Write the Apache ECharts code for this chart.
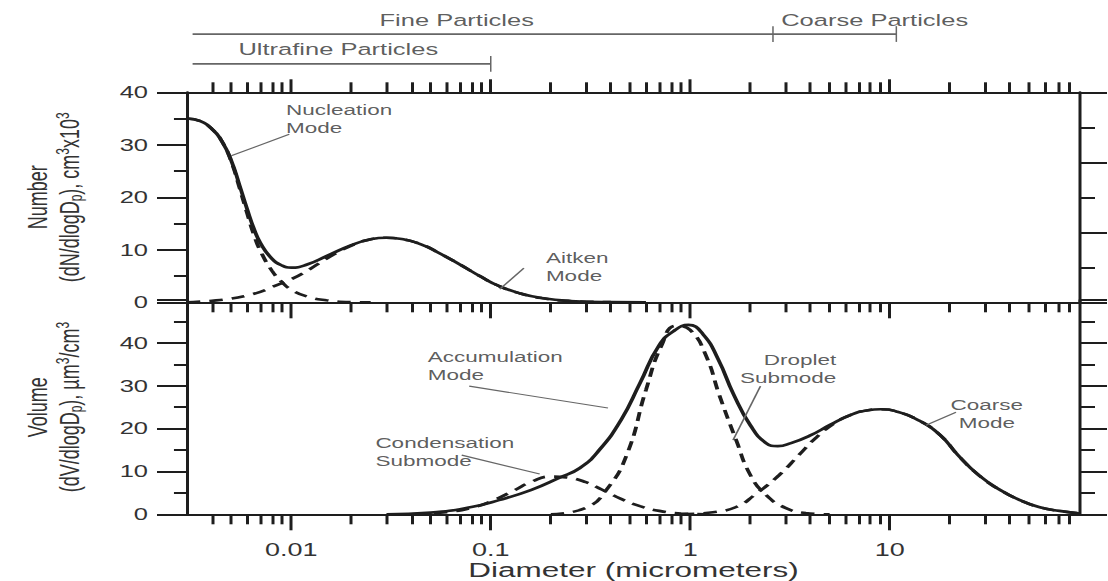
<!DOCTYPE html>
<html><head><meta charset="utf-8">
<script src="https://cdn.jsdelivr.net/npm/echarts@6/dist/echarts.min.js"></script>
<style>
html,body{margin:0;padding:0;background:#fff;overflow:hidden;width:1108px;height:581px;}
#chart{width:739px;height:581px;transform:scaleX(1.5);transform-origin:0 0;}
</style></head><body><div id="chart"></div>
<script>
// ---------- axes ----------
const xMin = 0.003, xMax = 90;
const xMajorTicks = [0.01, 0.1, 1, 10];
const xTickLabels = ['0.01', '0.1', '1', '10'];
const xMinorTicks = [0.004,0.005,0.006,0.007,0.008,0.009,0.02,0.03,0.04,0.05,0.06,0.07,0.08,0.09,
  0.2,0.3,0.4,0.5,0.6,0.7,0.8,0.9,2,3,4,5,6,7,8,9,20,30,40,50,60,70,80];
const numberTickLabels = [0, 10, 20, 30, 40];
const volumeTickLabels = [0, 10, 20, 30, 40];

// ---------- top panel: number distribution [diameter (µm), dN/dlogDp (cm^-3 x10^3)] ----------
const numberTotal = [[0.003,35.0],[0.0035,34.5],[0.004,33.0],[0.0045,30.6],[0.005,27.0],[0.0055,22.3],
  [0.006,17.8],[0.0065,14.0],[0.007,11.3],[0.008,8.3],[0.009,7.0],[0.01,6.6],[0.012,7.2],[0.015,8.8],
  [0.02,10.9],[0.025,12.0],[0.03,12.3],[0.035,12.1],[0.045,11.0],[0.055,9.4],[0.07,7.2],[0.09,4.8],
  [0.11,3.1],[0.14,1.7],[0.18,0.8],[0.25,0.25],[0.4,0.03],[0.6,0]];
const nucleationMode = [[0.003,35.0],[0.0035,34.5],[0.004,33.0],[0.0045,30.6],[0.005,26.8],[0.0055,21.8],
  [0.006,17.0],[0.0065,12.8],[0.007,9.8],[0.008,6.0],[0.009,3.8],[0.01,2.4],[0.012,1.1],[0.015,0.4],
  [0.02,0.05],[0.025,0]];
const aitkenMode = [[0.003,0],[0.004,0.3],[0.005,0.7],[0.006,1.3],[0.007,2.0],[0.008,2.9],[0.01,4.4],
  [0.012,6.0],[0.015,8.3],[0.02,10.8],[0.025,12.0],[0.03,12.3],[0.035,12.1],[0.045,11.0],[0.055,9.4],
  [0.07,7.2],[0.09,4.8],[0.11,3.1],[0.14,1.7],[0.18,0.8],[0.25,0.25],[0.4,0.03]];

// ---------- bottom panel: volume distribution [diameter (µm), dV/dlogDp (µm^3/cm^3)] ----------
const volumeTotal = [[0.03,0],[0.05,0.4],[0.08,1.7],[0.11,3.3],[0.16,5.7],[0.22,8.5],[0.28,10.8],
  [0.35,15.0],[0.45,22.0],[0.56,30.6],[0.7,39.5],[0.84,43.0],[0.98,44.2],[1.16,42.0],[1.38,36.2],
  [1.65,28.0],[2.0,20.8],[2.4,16.6],[2.75,15.9],[3.2,16.6],[4.0,18.4],[5.0,20.8],[6.3,23.1],[7.8,24.3],
  [9.0,24.5],[10.8,24.0],[14,21.9],[18,18.4],[22,13.8],[28,9.1],[36,5.6],[45,3.3],[56,1.7],[71,0.8],[90,0.2]];
const condensationSubmode = [[0.04,0],[0.06,0.5],[0.08,1.5],[0.1,3.0],[0.13,5.5],[0.16,7.6],[0.2,8.8],
  [0.24,8.6],[0.3,7.5],[0.36,5.8],[0.45,3.6],[0.56,1.9],[0.7,0.8],[0.9,0.2],[1.2,0]];
const dropletSubmode = [[0.2,0],[0.3,1.5],[0.38,5.7],[0.48,13.8],[0.6,29.0],[0.72,39.5],[0.85,44.0],
  [1.0,43.0],[1.2,37.0],[1.4,27.8],[1.7,17.3],[2.0,9.2],[2.4,4.5],[3.0,1.5],[3.8,0.3],[5,0]];
const coarseMode = [[0.9,0],[1.3,0.5],[1.7,1.7],[2.1,4.5],[2.8,9.2],[3.5,13.8],[4.3,18.0],[5.3,21.3],
  [6.3,23.1],[7.8,24.3],[9.0,24.5],[10.8,24.0],[14,21.9],[18,18.4],[22,13.8],[28,9.1],[36,5.6],[45,3.3],
  [56,1.7],[71,0.8],[90,0.2]];

// ---------- annotations ----------
const modeLabels = [
  {panel: 0, at: [0.0094, 38.3], text: 'Nucleation\nMode', align: 'left'},
  {panel: 0, at: [0.189, 10.2], text: 'Aitken\nMode', align: 'left'},
  {panel: 1, at: [0.0483, 38.8], text: 'Accumulation\nMode', align: 'left'},
  {panel: 1, at: [0.0264, 18.7], text: 'Condensation\nSubmode', align: 'left'},
  {panel: 1, at: [5.4, 38.1], text: 'Droplet\nSubmode', align: 'right'},
  {panel: 1, at: [30.7, 27.6], text: 'Coarse\nMode', align: 'center'}
];
const leaderLines = [
  {panel: 0, from: [0.00977, 32.0], to: [0.005, 27.9]},
  {panel: 0, from: [0.1466, 6.5], to: [0.111, 2.5]},
  {panel: 1, from: [0.078, 29.9], to: [0.387, 24.8]},
  {panel: 1, from: [0.0715, 13.8], to: [0.176, 9.4]},
  {panel: 1, from: [2.25, 29.9], to: [1.64, 17.3]},
  {panel: 1, from: [21.5, 23.8], to: [15.2, 20.8]}
];
const sizeRanges = [
  {text: 'Fine Particles', from: 0.0032, to: 2.6, level: 51.1, labelAt: [0.0675, 53.8]},
  {text: 'Coarse Particles', from: 2.6, to: 10.8, level: 51.1, labelAt: [8.41, 53.8]},
  {text: 'Ultrafine Particles', from: 0.0032, to: 0.1, level: 45.4, labelAt: [0.0172, 48.2]}
];

// ---------- styling ----------
const FONT = '"Liberation Sans", Arial, Helvetica, sans-serif';
const INK = '#1e1e1e', TEXT = '#333', THIN = '#666';
const SX = 1.5;
const gridLeft = 187 / SX, gridRight = 739 - 1080 / SX;

const chart = echarts.init(document.getElementById('chart'), null, {renderer: 'svg'});

function logX(gridIndex, position, ticks, len, showLine) {
  return {
    type: 'log', logBase: 10, gridIndex, position, min: xMin, max: xMax,
    axisLine: {show: showLine, onZero: false, lineStyle: {color: INK, width: 2}},
    axisTick: {show: true, customValues: ticks, length: len, lineStyle: {color: INK, width: 2}},
    axisLabel: {show: false}, splitLine: {show: false},
    minorTick: {show: false}, minorSplitLine: {show: false}
  };
}
function linY(gridIndex, position, max, interval, majorLen, minorLen, labels, name) {
  const ax = {
    type: 'value', gridIndex, position, min: 0, max, interval,
    axisLine: {show: true, onZero: false, lineStyle: {color: INK, width: 2}},
    axisTick: {show: true, length: majorLen, lineStyle: {color: INK, width: 2}},
    minorTick: {show: true, splitNumber: 2, length: minorLen, lineStyle: {color: INK, width: 2}},
    axisLabel: {show: false}, splitLine: {show: false}
  };
  if (labels) {
    ax.axisLabel = {show: true, customValues: labels, margin: 26, fontFamily: FONT, fontSize: 17, color: TEXT};
  }
  if (name) {
    ax.name = name;
    ax.nameLocation = 'middle';
    ax.nameRotate = 90;
    ax.nameGap = 68;
    ax.nameTextStyle = {
      fontFamily: FONT, fontSize: 18, color: TEXT, lineHeight: 21,
      rich: {
        t: {fontFamily: FONT, fontSize: 18, color: TEXT, lineHeight: 21},
        s: {fontFamily: FONT, fontSize: 12, color: TEXT, lineHeight: 11, verticalAlign: 'bottom'},
        u: {fontFamily: FONT, fontSize: 12, color: TEXT, lineHeight: 11, verticalAlign: 'top'}
      }
    };
  }
  return ax;
}

const xAxes = [
  logX(0, 'bottom', xMajorTicks, 16, true),
  logX(0, 'bottom', xMinorTicks, 10, false),
  logX(0, 'top', xMajorTicks, 13, true),
  logX(0, 'top', xMinorTicks, 10, false),
  logX(1, 'bottom', xMajorTicks, 16, true),
  logX(1, 'bottom', xMinorTicks, 10, false)
];
xAxes[4].axisLabel = {
  show: true, customValues: xMajorTicks, margin: 26, fontFamily: FONT, fontSize: 18, color: TEXT,
  formatter: v => {
    const i = xMajorTicks.findIndex(t => Math.abs(Math.log10(t) - Math.log10(v)) < 1e-6);
    return i >= 0 ? xTickLabels[i] : '';
  }
};
xAxes[4].name = 'Diameter (micrometers)';
xAxes[4].nameLocation = 'middle';
xAxes[4].nameGap = 44;
xAxes[4].nameTextStyle = {fontFamily: FONT, fontSize: 21, color: TEXT};

const yAxes = [
  linY(0, 'left', 40, 10, 20, 8.7, numberTickLabels,
    '{t|Number}\n{t|(dN/dlogD}{s|p}{t|), cm}{u|3}{t|x10}{u|3}'),
  linY(0, 'right', 6, 2, 18, 10, null, null),
  linY(1, 'left', 50, 10, 20, 8.7, volumeTickLabels,
    '{t|Volume}\n{t|(dV/dlogD}{s|p}{t|), \u00b5m}{u|3}{t|/cm}{u|3}'),
  linY(1, 'right', 50, 10, 18, 10, null, null)
];

function curve(data, xi, yi, dashed) {
  return {
    type: 'line', xAxisIndex: xi, yAxisIndex: yi, data, smooth: true, symbol: 'none', showSymbol: false,
    silent: true, z: dashed ? 4 : 3,
    lineStyle: {color: INK, width: 2.6, type: dashed ? [9, 6] : 'solid', cap: 'butt'}
  };
}
const panelAxes = [[0, 0], [4, 2]];

const series = [
  curve(numberTotal, 0, 0, false),
  curve(nucleationMode, 0, 0, true),
  curve(aitkenMode, 0, 0, true),
  curve(volumeTotal, 4, 2, false),
  curve(condensationSubmode, 4, 2, true),
  curve(dropletSubmode, 4, 2, true),
  curve(coarseMode, 4, 2, true)
];

leaderLines.forEach(l => {
  const [xi, yi] = panelAxes[l.panel];
  series.push({type: 'line', xAxisIndex: xi, yAxisIndex: yi, data: [l.from, l.to], symbol: 'none',
    silent: true, z: 5, lineStyle: {color: THIN, width: 1.2}});
});

[0, 1].forEach(p => {
  const [xi, yi] = panelAxes[p];
  series.push({
    type: 'scatter', xAxisIndex: xi, yAxisIndex: yi, symbolSize: 1, clip: false, silent: true, z: 6,
    itemStyle: {color: 'rgba(0,0,0,0)'},
    data: modeLabels.filter(m => m.panel === p).map(m => ({
      value: m.at,
      label: {formatter: m.text, align: m.align, verticalAlign: 'top'}
    })),
    label: {show: true, position: 'inside', fontFamily: FONT, fontSize: 15, lineHeight: 18, color: TEXT}
  });
});

sizeRanges.forEach(r => {
  series.push({type: 'line', xAxisIndex: 0, yAxisIndex: 0, clip: false, data: [[r.from, r.level], [r.to, r.level]],
    symbol: 'none', silent: true, lineStyle: {color: THIN, width: 1.8}});
  series.push({type: 'line', xAxisIndex: 0, yAxisIndex: 0, clip: false,
    data: [[r.to, r.level - 1.5], [r.to, r.level + 1.5]],
    symbol: 'none', silent: true, lineStyle: {color: THIN, width: 1}});
});
series.push({
  type: 'scatter', xAxisIndex: 0, yAxisIndex: 0, symbolSize: 1, clip: false, silent: true,
  itemStyle: {color: 'rgba(0,0,0,0)'},
  data: sizeRanges.map(r => ({value: r.labelAt, label: {formatter: r.text}})),
  label: {show: true, position: 'inside', align: 'center', verticalAlign: 'middle',
    fontFamily: FONT, fontSize: 17, color: TEXT}
});

chart.setOption({
  animation: false,
  backgroundColor: '#fff',
  grid: [
    {left: gridLeft, right: gridRight, top: 92.3, height: 210, outerBoundsMode: 'none'},
    {left: gridLeft, right: gridRight, top: 300, height: 214.3, outerBoundsMode: 'none'}
  ],
  xAxis: xAxes,
  yAxis: yAxes,
  series
});
</script></body></html>
